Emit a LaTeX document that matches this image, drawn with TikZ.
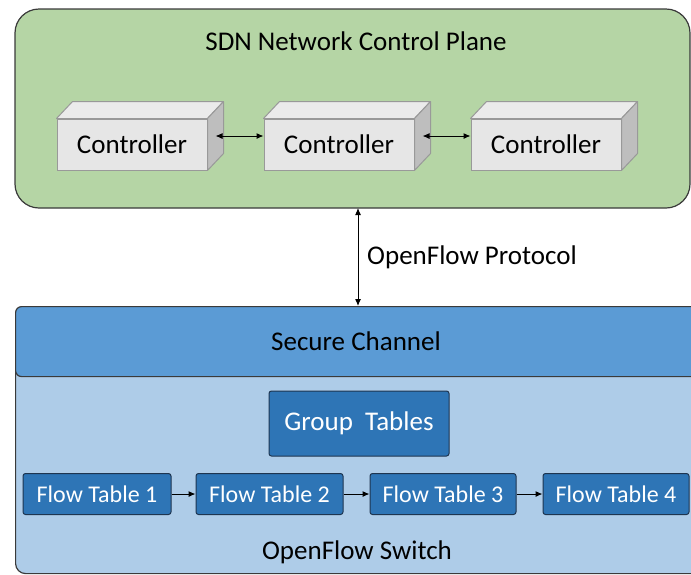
\documentclass[tikz,border=0pt]{standalone}
\usepackage{fontspec}
\setmainfont{Carlito}
\usetikzlibrary{arrows.meta,calc}

\definecolor{planegreen}{HTML}{B5D5A5}
\definecolor{switchblue}{HTML}{AECCE8}
\definecolor{channelblue}{HTML}{5B9BD5}
\definecolor{tableblue}{HTML}{2E75B6}
\definecolor{tableedge}{HTML}{1E3550}
\definecolor{ctrlfront}{HTML}{E6E6E6}
\definecolor{ctrltop}{HTML}{EBEBEB}
\definecolor{ctrlside}{HTML}{BEBEBE}
\definecolor{ctrledge}{HTML}{999999}
\definecolor{frameedge}{HTML}{3A3A3A}

\tikzset{
  ctrl/.style={draw=ctrledge, line width=1pt, fill=ctrlfront, minimum width=150pt,
    minimum height=51pt, inner sep=0pt, font=\fontsize{27}{30}\selectfont},
  tablebox/.style={draw=tableedge, line width=1pt, fill=tableblue, rounded corners=2.5pt,
    text=white, inner sep=0pt},
  biarrow/.style={line width=1pt, {Latex[length=7pt,width=6pt]}-{Latex[length=7pt,width=6pt]}},
  onearrow/.style={line width=1pt, -{Latex[length=7pt,width=6pt]}},
  label/.style={font=\fontsize{27}{30}\selectfont, inner sep=0pt},
}

% draws the top and right faces of a box whose front face is the node #1
\newcommand{\boxdepth}[1]{%
  \fill[ctrltop, draw=ctrledge, line width=1pt, line join=round]
    (#1.north west) -- ++(16,-17) -- ($(#1.north east)+(16,-17)$) -- (#1.north east) -- cycle;
  \fill[ctrlside, draw=ctrledge, line width=1pt, line join=round]
    (#1.north east) -- ++(16,-17) -- ($(#1.south east)+(16,-17)$) -- (#1.south east) -- cycle;
  \coordinate (#1-side) at ($(#1.east)+(8,-8.5)$);
}

\begin{document}
\begin{tikzpicture}[x=1pt,y=-1pt]
\useasboundingbox (0,0) rectangle (691,574);
\clip (0,0) rectangle (691,574);

% control plane
\node[draw=frameedge, line width=1.2pt, fill=planegreen, rounded corners=24pt,
  minimum width=675pt, minimum height=199pt, inner sep=0pt] (plane) at (352.5,108.5) {};
\node[label] (planetitle) at (356,41) {SDN Network Control Plane};

\node[ctrl] (c1) at (132,144.5) {Controller};
\node[ctrl] (c2) at (339,144.5) {Controller};
\node[ctrl] (c3) at (546,144.5) {Controller};
\boxdepth{c1}
\boxdepth{c2}
\boxdepth{c3}
\draw[biarrow] (c1-side) -- (c1-side -| c2.west);
\draw[biarrow] (c2-side) -- (c2-side -| c3.west);

% switch
\node[draw=frameedge, line width=1.2pt, fill=switchblue, rounded corners=10pt,
  minimum width=710pt, minimum height=267pt, inner sep=0pt, anchor=north west] (switch) at (15,306) {};
\node[draw=frameedge, line width=1.2pt, fill=channelblue, rounded corners=6pt,
  minimum width=710pt, minimum height=70pt, inner sep=0pt, anchor=north west] (channel) at (15,306) {};
\node[label] (channeltitle) at (356,341) {Secure Channel};

% protocol link
\coordinate (linktop) at (358,208);
\coordinate (linkbot) at (358,306);
\draw[biarrow] (linktop) -- (linkbot);
\node[label, anchor=west] (proto) at (367,257) {OpenFlow Protocol};

% tables
\node[tablebox, minimum width=180pt, minimum height=65pt, font=\fontsize{27}{30}\selectfont]
  (group) at (359,423.5) {Group\ \ Tables};
\node[tablebox, minimum width=148pt, minimum height=41pt, font=\fontsize{24}{28}\selectfont] (ft1) at (97,494) {Flow Table 1};
\node[tablebox, minimum width=147pt, minimum height=41pt, font=\fontsize{24}{28}\selectfont] (ft2) at (269.5,494) {Flow Table 2};
\node[tablebox, minimum width=146pt, minimum height=41pt, font=\fontsize{24}{28}\selectfont] (ft3) at (443,494) {Flow Table 3};
\node[tablebox, minimum width=146pt, minimum height=41pt, font=\fontsize{24}{28}\selectfont] (ft4) at (616,494) {Flow Table 4};
\draw[onearrow] (ft1) -- (ft2);
\draw[onearrow] (ft2) -- (ft3);
\draw[onearrow] (ft3) -- (ft4);

\node[label] (switchtitle) at (357,552) {OpenFlow Switch};
\end{tikzpicture}
\end{document}
